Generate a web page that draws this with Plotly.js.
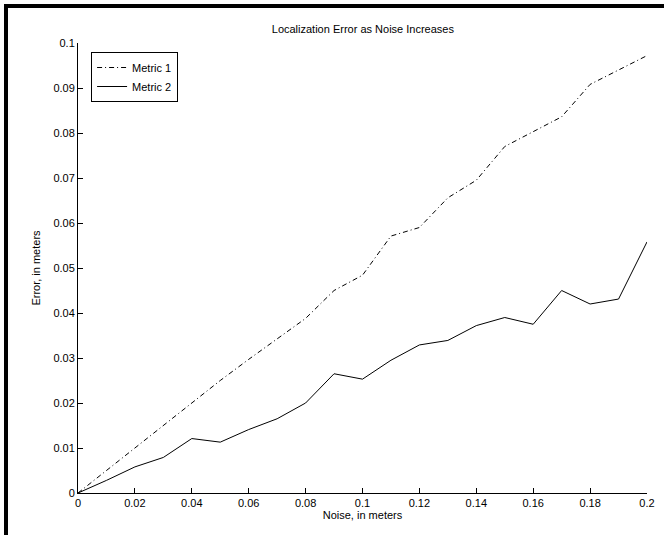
<!DOCTYPE html>
<html>
<head>
<meta charset="utf-8">
<script src="https://cdn.plot.ly/plotly-3.0.1.min.js"></script>
<style>
  html, body { margin: 0; padding: 0; background: #fff; overflow: hidden; }
  #wrap { position: relative; width: 664px; height: 535px; overflow: hidden; }
  #chart { position: absolute; left: 0; top: 0; width: 664px; height: 535px; }
  #frame { position: absolute; left: 4px; top: 4px; width: 720px; height: 600px;
           box-sizing: border-box; border: 4px solid #000; pointer-events: none; }
</style>
</head>
<body>
<div id="wrap"><div id="chart"></div><div id="frame"></div></div>
<script>
const noise = [0, 0.01, 0.02, 0.03, 0.04, 0.05, 0.06, 0.07, 0.08, 0.09, 0.10,
               0.11, 0.12, 0.13, 0.14, 0.15, 0.16, 0.17, 0.18, 0.19, 0.20];
const metric1 = [0, 0.0050, 0.0098, 0.0150, 0.0200, 0.0250, 0.0297, 0.0343, 0.0388, 0.0450, 0.0484,
                 0.0571, 0.0590, 0.0656, 0.0695, 0.0770, 0.0803, 0.0836, 0.0908, 0.0940, 0.0972];
const metric2 = [0, 0.0028, 0.0058, 0.0079, 0.0121, 0.0113, 0.0141, 0.0165, 0.0200, 0.0265, 0.0253,
                 0.0295, 0.0329, 0.0339, 0.0372, 0.0390, 0.0375, 0.0450, 0.0420, 0.0431, 0.0558];
const xTickVals = [0, 0.02, 0.04, 0.06, 0.08, 0.10, 0.12, 0.14, 0.16, 0.18, 0.20];
const xTickText = ["0", "0.02", "0.04", "0.06", "0.08", "0.1", "0.12", "0.14", "0.16", "0.18", "0.2"];
const yTickVals = [0, 0.01, 0.02, 0.03, 0.04, 0.05, 0.06, 0.07, 0.08, 0.09, 0.10];
const yTickText = ["0", "0.01", "0.02", "0.03", "0.04", "0.05", "0.06", "0.07", "0.08", "0.09", "0.1"];

const fontFam = "Liberation Sans, Arial, Helvetica, sans-serif";

const traces = [
  { x: noise, y: metric1, name: "Metric 1", mode: "lines",
    line: { color: "#000", width: 1, dash: "5px,3px,1px,3px" } },
  { x: noise, y: metric2, name: "Metric 2", mode: "lines",
    line: { color: "#000", width: 1 } }
];

const axisCommon = {
  showline: true, linecolor: "#000", linewidth: 1, mirror: false,
  ticks: "inside", ticklen: 5, tickwidth: 1, tickcolor: "#000",
  showgrid: false, zeroline: false,
  tickfont: { family: fontFam, size: 11, color: "#000" },
  fixedrange: true
};

const layout = {
  width: 664, height: 535,
  margin: { l: 78, r: 17, t: 43, b: 42, pad: 0 },
  paper_bgcolor: "#fff", plot_bgcolor: "#fff",
  font: { family: fontFam, size: 11, color: "#000" },
  title: { text: "Localization Error as Noise Increases", x: 0.5465, xanchor: "center",
           y: 1 - 29/535, yanchor: "middle", font: { family: fontFam, size: 11, color: "#000" } },
  xaxis: Object.assign({}, axisCommon, {
    range: [0, 0.2], tickvals: xTickVals, ticktext: xTickText,
    title: { text: "Noise, in meters", standoff: 3, font: { family: fontFam, size: 11, color: "#000" } }
  }),
  yaxis: Object.assign({}, axisCommon, {
    range: [0, 0.1], tickvals: yTickVals, ticktext: yTickText,
    title: { text: "Error, in meters", standoff: 10, font: { family: fontFam, size: 11, color: "#000" } }
  }),
  showlegend: true,
  legend: {
    x: 0.023, y: 0.98, xanchor: "left", yanchor: "top",
    bgcolor: "#fff", bordercolor: "#000", borderwidth: 1,
    font: { family: fontFam, size: 11, color: "#000" },
    tracegroupgap: 0, itemwidth: 30
  }
};

Plotly.newPlot("chart", traces, layout, { displayModeBar: false, staticPlot: true });
</script>
</body>
</html>
